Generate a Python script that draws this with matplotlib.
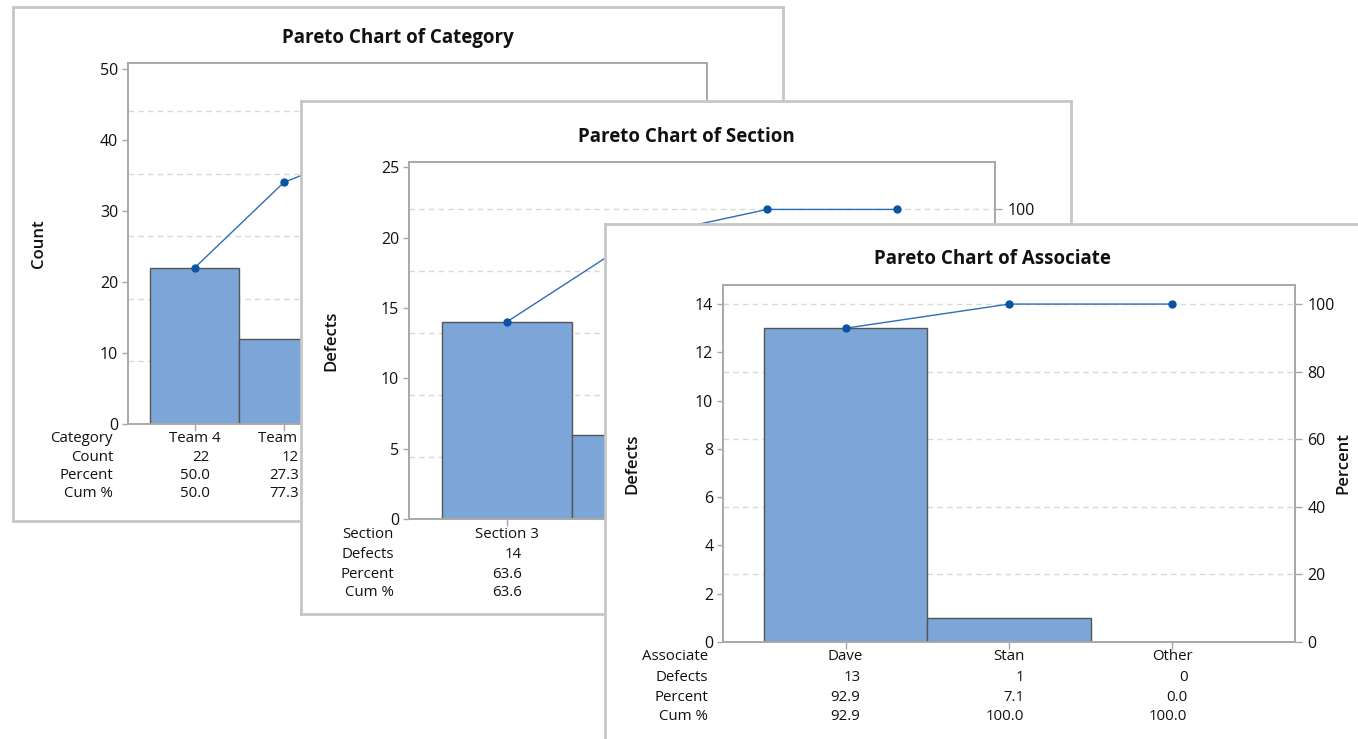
import numpy as np
import matplotlib
matplotlib.use('Agg')
import matplotlib.pyplot as plt
from matplotlib import transforms

W, H = 1358, 739

# --- data ---
category_names = ['Team 4', 'Team 1', 'Team 3', 'Team 2', 'Team 5', 'Team 6']
category_counts = [22, 12, 5, 3, 2, 0]

section_names = ['Section 3', 'Section 1', 'Section 2', 'Section 4']
section_defects = [14, 6, 2, 0]

associate_names = ['Dave', 'Stan', 'Other']
associate_defects = [13, 1, 0]

pct_ticks = [0, 20, 40, 60, 80, 100]

plt.rcParams['font.family'] = ['Open Sans', 'DejaVu Sans']

BAR = '#7ca6d8'
LINE = '#2f6cb8'
DOT = '#0b54a4'
GRID = '#d9d9d9'
SPINE = '#a8a8a8'
FRAME = '#c6c6c6'
TXT = '#111111'

fig = plt.figure(figsize=(W / 100, H / 100), dpi=100)


def box(x0, y0, x1, y1):
    # pixel box (top-left origin) -> figure fraction rect
    return [x0 / W, 1 - y1 / H, (x1 - x0) / W, (y1 - y0) / H]


def pareto(frame, plot, z, title, title_y, names, vals, xname, yname,
           ytop, ystep, ylab_dx, rows):
    # white window with grey border
    fx = fig.add_axes(box(*frame), zorder=z)
    fx.set_xlim(frame[0], frame[2])
    fx.set_ylim(frame[3], frame[1])
    fx.set_xticks([])
    fx.set_yticks([])
    fx.set_facecolor('white')
    for s in fx.spines.values():
        s.set_color(FRAME)
        s.set_linewidth(2)
    fx.text((frame[0] + frame[2]) / 2, title_y, title, ha='center', va='center',
            fontsize=13.5, weight='bold', color=TXT)
    fx.text(plot[0] - ylab_dx, (plot[1] + plot[3]) / 2, yname, rotation=90,
            ha='center', va='center', fontsize=12, weight='semibold', color=TXT)
    fx.text(plot[2] + 48, (plot[1] + plot[3]) / 2, 'Percent', rotation=90,
            ha='center', va='center', fontsize=12, weight='semibold', color=TXT)

    n = len(vals)
    total = float(sum(vals))
    cum = np.cumsum(vals)
    x = np.arange(n)

    ax = fig.add_axes(box(*plot), zorder=z + 1)
    ax.set_facecolor('white')
    for p in pct_ticks[1:]:
        ax.axhline(total * p / 100, color=GRID, lw=1, ls=(0, (4, 3)), zorder=0.5)
    ax.bar(x, vals, width=1, color=BAR, edgecolor='#555555', lw=1, zorder=2)
    ax.plot(x, cum, color=LINE, lw=1, marker='o', ms=5, mfc=DOT, mec=DOT, zorder=3,
            clip_on=False)
    ax.set_xlim(-0.75, n - 0.25)
    ax.set_ylim(0, ytop)
    ax.set_yticks(np.arange(0, ytop, ystep))
    ax.set_xticks(x)
    ax.set_xticklabels([])
    ax.tick_params(axis='y', length=4, width=1, color=SPINE, pad=3,
                   labelsize=11.5, labelcolor=TXT)
    ax.tick_params(axis='x', length=5, width=1, color=SPINE)

    ax2 = ax.twinx()
    ax2.set_zorder(z + 2)
    ax2.set_ylim(0, ytop / total * 100)
    ax2.set_yticks(pct_ticks)
    ax2.tick_params(axis='y', length=5, width=1, color=SPINE, pad=4,
                    labelsize=11.5, labelcolor=TXT)
    for a in (ax, ax2):
        for s in a.spines.values():
            s.set_color(SPINE)
            s.set_linewidth(1.2)

    # table under the bars
    pct = [v / total * 100 for v in vals]
    cum_pct = [c / total * 100 for c in cum]
    table = [[str(v) for v in vals],
             ['%.1f' % v for v in pct],
             ['%.1f' % v for v in cum_pct]]
    row_names = [xname, yname, 'Percent', 'Cum %']
    base = ax.get_xaxis_transform()
    for r, dy in enumerate(rows):
        tr = transforms.offset_copy(base, fig=fig, x=0, y=-dy, units='dots')
        ax.text(-0.75, 0, row_names[r], transform=transforms.offset_copy(
            base, fig=fig, x=-15, y=-dy, units='dots'),
            ha='right', va='center', fontsize=10.8, color=TXT, clip_on=False)
        for i in range(n):
            if r == 0:
                ax.text(i, 0, names[i], transform=tr, ha='center', va='center',
                        fontsize=10.8, color=TXT, clip_on=False)
            else:
                t = transforms.offset_copy(base, fig=fig, x=15, y=-dy, units='dots')
                ax.text(i, 0, table[r - 1][i], transform=t, ha='right', va='center',
                        fontsize=10.8, color=TXT, clip_on=False)


pareto((13, 7, 783, 521), (128, 63, 707, 424), 10, 'Pareto Chart of Category', 37.5,
       category_names, category_counts, 'Category', 'Count', 50.8, 10, 89,
       [15, 34, 52, 70])
pareto((301, 101, 1071, 614), (409, 162, 995, 519), 20, 'Pareto Chart of Section', 136.5,
       section_names, section_defects, 'Section', 'Defects', 25.37, 5, 78,
       [15, 35, 55, 73])
pareto((605, 224, 1380, 760), (723, 285, 1295, 642), 30, 'Pareto Chart of Associate', 259.5,
       associate_names, associate_defects, 'Associate', 'Defects', 14.79, 2, 91,
       [15, 35.5, 55.5, 74.5])

fig.savefig('out.png', dpi=100, facecolor='white')
